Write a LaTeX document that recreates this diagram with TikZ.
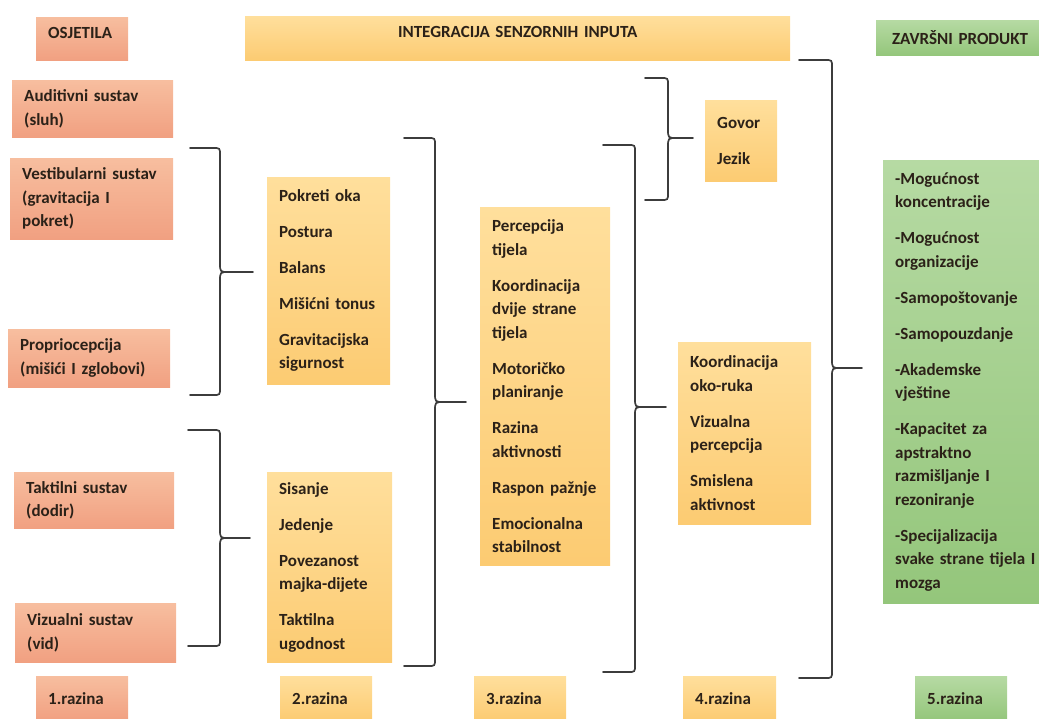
\documentclass[tikz,border=0pt]{standalone}
\usepackage{fontspec}
\setmainfont{Carlito}
\usepackage{xcolor}
\usepackage{tikz}
\definecolor{inktext}{HTML}{2B2118}
\definecolor{senseTop}{HTML}{F7BE9F}
\definecolor{senseBot}{HTML}{F1A081}
\definecolor{integTop}{HTML}{FFDF9C}
\definecolor{integBot}{HTML}{FCCB72}
\definecolor{prodTop}{HTML}{B6DAA3}
\definecolor{prodBot}{HTML}{94C67B}
\definecolor{braceGray}{HTML}{3C3C3C}
\tikzset{levelbox/.style={anchor=north west,inner xsep=12pt,inner ysep=0pt,align=left,text=inktext,font=\bfseries\fontsize{17}{23.5}\selectfont},
  sensebox/.style={levelbox,top color=senseTop,bottom color=senseBot},
  integbox/.style={levelbox,top color=integTop,bottom color=integBot},
  prodbox/.style={levelbox,top color=prodTop,bottom color=prodBot},
  bracket/.style={draw=braceGray,line width=1.7pt,line cap=round}}

\begin{document}
\begin{tikzpicture}[x=1pt,y=-1pt]
    \useasboundingbox (0,0) rectangle (1039,718);

    % headings
    \node[sensebox,text width=68pt,text depth=12pt,minimum height=43pt] (osjetila) at (36,17) {OSJETILA};
    \node[integbox,align=center,text width=521pt,text depth=12pt,minimum height=44pt] (integracija) at (245,16) {INTEGRACIJA SENZORNIH INPUTA};
    \node[prodbox,inner xsep=16pt,text width=142pt,minimum height=35pt] (zavrsni) at (876,20) {ZAVRŠNI PRODUKT};

    % level 1
    \node[sensebox,text width=137pt,minimum height=57pt] (auditivni) at (12,80) {Auditivni sustav\\(sluh)};
    \node[sensebox,text width=139pt,minimum height=81pt] (vestibularni) at (10,158) {Vestibularni sustav\\(gravitacija I\\pokret)};
    \node[sensebox,text width=138pt,minimum height=58pt] (proprio) at (8,329) {Propriocepcija\\(mišići I zglobovi)};
    \node[sensebox,text width=136pt,minimum height=56pt] (taktilni) at (14,472) {Taktilni sustav\\(dodir)};
    \node[sensebox,text width=137pt,minimum height=59pt] (vizualni) at (15,603) {Vizualni sustav\\(vid)};

    % level 2
    \node[integbox,text width=99pt,minimum height=207pt] (pokreti) at (267,177) {Pokreti oka\\[12.5pt]Postura\\[12.5pt]Balans\\[12.5pt]Mišićni tonus\\[12.5pt]Gravitacijska\\sigurnost};
    \node[integbox,text width=101pt,minimum height=190pt] (sisanje) at (267,472) {Sisanje\\[12.5pt]Jedenje\\[12.5pt]Povezanost\\majka-dijete\\[12.5pt]Taktilna\\ugodnost};

    % level 3
    \node[integbox,text width=106pt,minimum height=358pt] (percepcija) at (480,207) {Percepcija\\tijela\\[12.5pt]Koordinacija\\dvije strane\\tijela\\[12.5pt]Motoričko\\planiranje\\[12.5pt]Razina\\aktivnosti\\[12.5pt]Raspon pažnje\\[12.5pt]Emocionalna\\stabilnost};

    % level 4
    \node[integbox,text width=48pt,minimum height=81pt] (govor) at (705,100) {Govor\\[12.5pt]Jezik};
    \node[integbox,text width=109pt,minimum height=182pt] (okoruka) at (678,342) {Koordinacija\\oko-ruka\\[12.5pt]Vizualna\\percepcija\\[12.5pt]Smislena\\aktivnost};

    % level 5
    \node[prodbox,text width=146pt,minimum height=443pt] (produkt) at (883,160) {-Mogućnost\\koncentracije\\[12.5pt]-Mogućnost\\organizacije\\[12.5pt]-Samopoštovanje\\[12.5pt]-Samopouzdanje\\[12.5pt]-Akademske\\vještine\\[12.5pt]-Kapacitet za\\apstraktno\\razmišljanje I\\rezoniranje\\[12.5pt]-Specijalizacija\\svake strane tijela I\\mozga};

    % razine
    \node[sensebox,text width=68pt,minimum height=44pt] (razina1) at (36,676) {1.razina};
    \node[integbox,text width=68pt,minimum height=44pt] (razina2) at (280,676) {2.razina};
    \node[integbox,text width=68pt,minimum height=44pt] (razina3) at (474,676) {3.razina};
    \node[integbox,text width=69pt,minimum height=44pt] (razina4) at (683,676) {4.razina};
    \node[prodbox,text width=68pt,minimum height=44pt] (razina5) at (915,676) {5.razina};

    % brackets
    \foreach \xs/\xv/\xt/\yt/\ym/\yb in {190/220/253/148/272/395,188/220/250/430/538/646,404/435/466/138/402/666,645/668/693/78/138/200,603/635/666/145/407/672,799/832/862/60/368/678} {
      \draw[bracket] (\xs,\yt) -- (\xv-7,\yt) .. controls (\xv,\yt) .. (\xv,\yt+7) -- (\xv,\ym-9) .. controls (\xv,\ym) .. (\xv+9,\ym) -- (\xt,\ym);
      \draw[bracket] (\xs,\yb) -- (\xv-7,\yb) .. controls (\xv,\yb) .. (\xv,\yb-7) -- (\xv,\ym+9) .. controls (\xv,\ym) .. (\xv+9,\ym);
    }
  \end{tikzpicture}
\end{document}
